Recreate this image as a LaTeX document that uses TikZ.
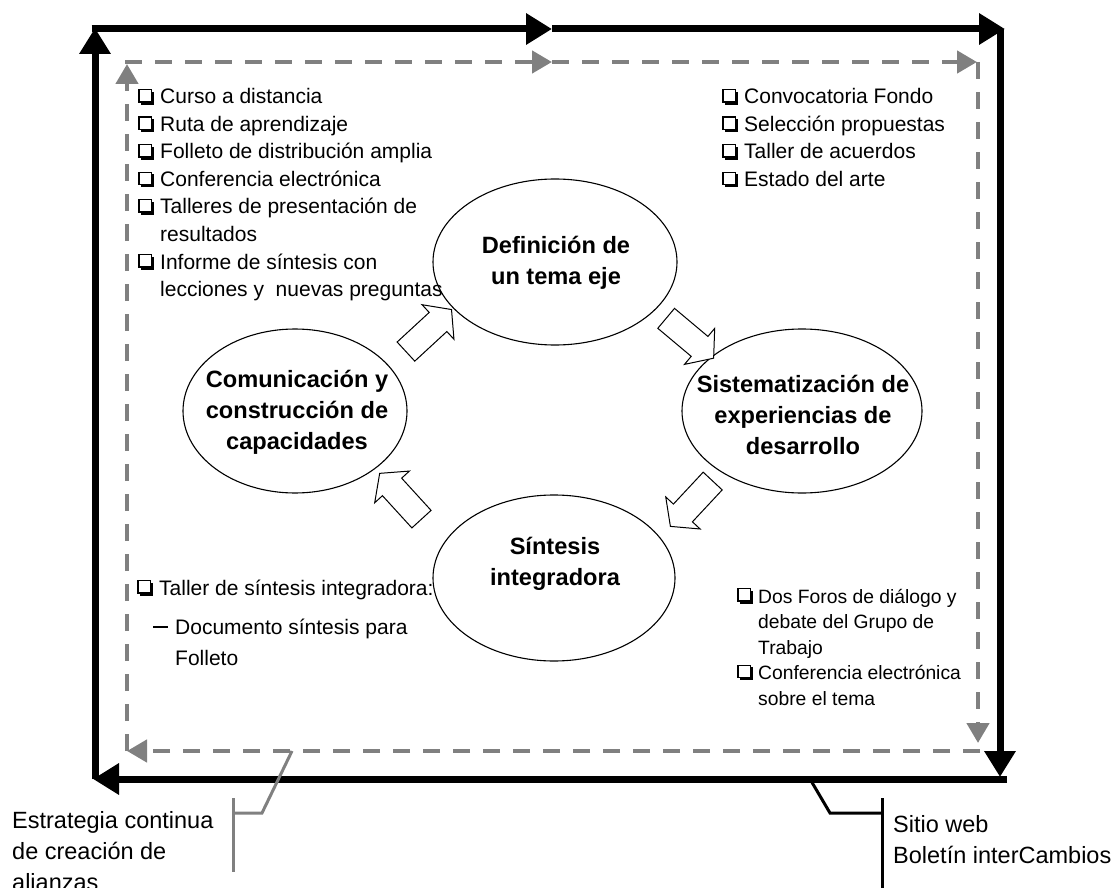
\documentclass[tikz,border=0pt]{standalone}
\usepackage{fontspec}
\setmainfont{Liberation Sans}
\usetikzlibrary{arrows.meta,shapes.geometric,shapes.arrows}
\definecolor{dgray}{HTML}{808080}
\newcommand{\bulbox}{\tikz[baseline=0pt,x=1pt,y=1pt]{\draw[line width=1.4pt] (0.7,2.0) rectangle (13.0,14.3);
  \fill (2.8,-0.6) rectangle (15.6,2.2); \fill (12.6,-0.6) rectangle (15.6,12.2);}}
\newcommand{\bul}{\makebox[22pt][l]{\bulbox}}
\newcommand{\bulb}{\makebox[21pt][l]{\bulbox}}
\newcommand{\dashbul}{\makebox[22pt][l]{\rule[6pt]{15pt}{1.6pt}}}
\begin{document}
\begin{tikzpicture}[x=1pt,y=-1pt,
  frame/.style={line width=7pt, -{Triangle[length=26pt,width=30pt]}},
  dframe/.style={line width=4.5pt, dgray, dash pattern=on 17pt off 13pt, -{Triangle[length=20pt,width=22pt]}},
  ell/.style={ellipse, draw, line width=1.1pt, inner sep=0pt},
  etext/.style={align=center, font=\fontsize{23.6}{31}\selectfont\bfseries, inner sep=0pt},
  item/.style={anchor=base west, inner sep=0pt, font=\fontsize{21}{27}\selectfont},
  itemb/.style={anchor=base west, inner sep=0pt, font=\fontsize{19.3}{25}\selectfont},
  ctext/.style={anchor=base west, inner sep=0pt, font=\fontsize{23.5}{31}\selectfont},
  barrow/.style={single arrow, draw, line width=1pt, fill=white, minimum height=62pt,
    inner xsep=0pt, inner ysep=12.5pt, single arrow head extend=10.5pt, single arrow tip angle=104},
  callg/.style={line width=3pt, dgray},
  callb/.style={line width=3pt, black}]
\useasboundingbox (0,0) rectangle (1117,888);

% ---- outer black frame
\coordinate (B1) at (95,779);
\coordinate (B2) at (95,28);
\coordinate (T0) at (91.5,29);
\coordinate (T1) at (552,29);
\coordinate (T2) at (1005,29);
\coordinate (R0) at (1000,29);
\coordinate (R1) at (1000,777);
\coordinate (D0) at (1007,779);
\coordinate (D1) at (93,779);
\draw[frame] (B1) -- (B2);
\draw[frame] (T0) -- (T1);
\draw[frame] (T1) -- (T2);
\draw[frame] (R0) -- (R1);
\draw[frame] (D0) -- (D1);

% ---- inner gray dashed frame
\coordinate (g1) at (127,751);
\coordinate (g2) at (127,64);
\coordinate (g3) at (125,62);
\coordinate (g4) at (552,62);
\coordinate (g5) at (977,62);
\coordinate (g6) at (978,62);
\coordinate (g7) at (978,743);
\coordinate (g8) at (980,751);
\coordinate (g9) at (127,751);
\draw[dframe] (g1) -- (g2);
\draw[dframe] (g3) -- (g4);
\draw[dframe] (g4) -- (g5);
\draw[dframe] (g6) -- (g7);
\draw[dframe] (g8) -- (g9);

% ---- ellipses
\node[ell, minimum width=244pt, minimum height=166pt] (e1) at (555,262) {};
\node[ell, minimum width=224pt, minimum height=164pt] (e2) at (295,411) {};
\node[ell, minimum width=240pt, minimum height=164pt] (e3) at (802,411) {};
\node[ell, minimum width=242pt, minimum height=166pt] (e4) at (554,578) {};
\node[etext] (t1) at (556,263) {Definición de\\un tema eje};
\node[etext] (t2) at (297,412) {Comunicación y\\construcción de\\capacidades};
\node[etext] (t3) at (803,415) {Sistematización de\\experiencias de\\desarrollo};
\node[etext] (t4) at (555,564) {Síntesis\\integradora};

% ---- hollow block arrows
\node[barrow, rotate=42.7] (a1) at (425,334) {};
\node[barrow, rotate=-40] (a2) at (686,335) {};
\node[barrow, rotate=-133] (a3) at (695,500) {};
\node[barrow, rotate=132.4] (a4) at (404,500) {};

% ---- top left list
\node[item] (l1) at (138,104) {\bul Curso a distancia};
\node[item] (l2) at (138,131.5) {\bul Ruta de aprendizaje};
\node[item] (l3) at (138,159) {\bul Folleto de distribución amplia};
\node[item] (l4) at (138,186.5) {\bul Conferencia electrónica};
\node[item] (l5) at (138,214) {\bul Talleres de presentación de};
\node[item] (l6) at (160,241.5) {resultados};
\node[item] (l7) at (138,269) {\bul Informe de síntesis con};
\node[item] (l8) at (160,296.5) {lecciones y\ \ nuevas preguntas};

% ---- top right list
\node[item] (r1) at (722,104) {\bul Convocatoria Fondo};
\node[item] (r2) at (722,131.5) {\bul Selección propuestas};
\node[item] (r3) at (722,159) {\bul Taller de acuerdos};
\node[item] (r4) at (722,186.5) {\bul Estado del arte};

% ---- bottom left list
\node[item] (s1) at (137,595) {\bul Taller de síntesis integradora:};
\node[item] (s2) at (153,634) {\dashbul Documento síntesis para};
\node[item] (s3) at (175,665) {Folleto};

% ---- bottom right list
\node[itemb] (d1) at (737,603) {\bulb Dos Foros de diálogo y};
\node[itemb] (d2) at (758,628.5) {debate del Grupo de};
\node[itemb] (d3) at (758,654) {Trabajo};
\node[itemb] (d4) at (737,679.5) {\bulb Conferencia electrónica};
\node[itemb] (d5) at (758,705) {sobre el tema};

% ---- callouts
\coordinate (c1) at (292,751);
\coordinate (c2) at (262,813);
\coordinate (c3) at (233,813);
\coordinate (c4) at (233,798);
\coordinate (c5) at (233,872);
\draw[callg] (c1) -- (c2) -- (c3);
\draw[callg] (c4) -- (c5);
\node[ctext] (k1) at (12,828) {Estrategia continua};
\node[ctext] (k2) at (12,859) {de creación de};
\node[ctext] (k3) at (12,890) {alianzas};

\coordinate (w1) at (810,779);
\coordinate (w2) at (830,813);
\coordinate (w3) at (882,813);
\coordinate (w4) at (882,798);
\coordinate (w5) at (882,890);
\draw[callb] (w1) -- (w2) -- (w3);
\draw[callb] (w4) -- (w5);
\node[ctext] (m1) at (893,832) {Sitio web};
\node[ctext] (m2) at (893,863) {Boletín interCambios};
\end{tikzpicture}
\end{document}
